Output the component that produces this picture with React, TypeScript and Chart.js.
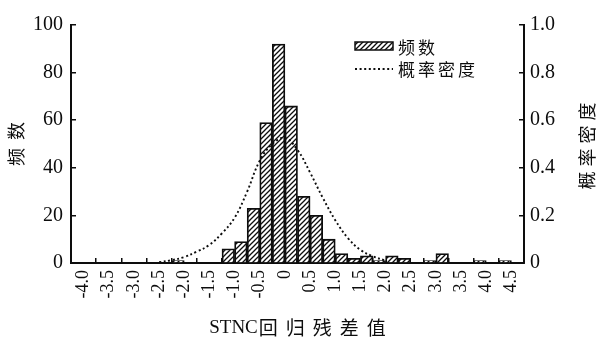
import React, { useEffect, useRef } from "react";
import { Chart, registerables } from "chart.js";

Chart.register(...registerables);

// Residual histogram, bin width 0.25 (bin centres)
const binCenters = [
  -4.125, -3.875, -3.625, -3.375, -3.125, -2.875, -2.625, -2.375,
  -2.125, -1.875, -1.625, -1.375, -1.125, -0.875, -0.625, -0.375,
  -0.125, 0.125, 0.375, 0.625, 0.875, 1.125, 1.375, 1.625,
  1.875, 2.125, 2.375, 2.625, 2.875, 3.125, 3.375, 3.625,
  3.875, 4.125, 4.375, 4.625,
];
const frequency = [
  0, 0, 0, 0, 0, 0, 0, 0,
  1, 0, 0, 0, 6, 9, 23, 59,
  92, 66, 28, 20, 10, 4, 2, 3,
  1, 3, 2, 0, 1, 4, 0, 0,
  1, 0, 1, 0,
];

// Fitted probability density curve
const densityX = [
  -2.5, -2.25, -2.0, -1.75, -1.5, -1.25, -1.0, -0.75, -0.5, -0.25,
  0, 0.25, 0.5, 0.75, 1.0, 1.25, 1.5, 1.75, 2.0,
];
const densityY = [
  0.003, 0.012, 0.025, 0.048, 0.076, 0.125, 0.19, 0.3, 0.43, 0.5,
  0.525, 0.475, 0.38, 0.275, 0.18, 0.105, 0.055, 0.028, 0.01,
];

const xTickValues = [
  -4.0, -3.5, -3.0, -2.5, -2.0, -1.5, -1.0, -0.5, 0,
  0.5, 1.0, 1.5, 2.0, 2.5, 3.0, 3.5, 4.0, 4.5,
];
const xMin = -4.25;
const xMax = 4.75;
const countMax = 100;
const countStep = 20;
const densityMax = 1.0;
const densityStep = 0.2;

const seriesCount = "频数";
const seriesDensity = "概率密度";
const xTitleLatin = "STNC";
const xTitleCjk = "回归残差值";

const INK = "#0d0d0d";
const SERIF = "'Liberation Serif', 'Times New Roman', serif";
const CJK = "'Noto Sans CJK SC', 'Noto Sans CJK JP', sans-serif";

const fmt = (v: number) => (Math.abs(v) < 1e-9 ? "0" : Number(v).toFixed(1));

function makeHatch(): CanvasPattern | string {
  const s = 5;
  const c = document.createElement("canvas");
  c.width = s;
  c.height = s;
  const g = c.getContext("2d");
  if (!g) return "#fff";
  g.fillStyle = "#fff";
  g.fillRect(0, 0, s, s);
  g.strokeStyle = INK;
  g.lineWidth = 1.3;
  g.beginPath();
  g.moveTo(-1, s + 1);
  g.lineTo(s + 1, -1);
  g.moveTo(-1, 1);
  g.lineTo(1, -1);
  g.moveTo(s - 1, s + 1);
  g.lineTo(s + 1, s - 1);
  g.stroke();
  return g.createPattern(c, "repeat") || "#fff";
}

type Run = { text: string; font: string; spacing: number; gapAfter?: number };

// Draws runs of characters with extra tracking, centred on (cx, cy)
function drawRuns(ctx: CanvasRenderingContext2D, runs: Run[], cx: number, cy: number, angle = 0) {
  let total = 0;
  const widths: number[][] = [];
  runs.forEach((r, ri) => {
    ctx.font = r.font;
    const chars = Array.from(r.text);
    const ws = chars.map((ch) => ctx.measureText(ch).width);
    widths.push(ws);
    ws.forEach((w, i) => {
      total += w;
      if (i < ws.length - 1) total += r.spacing;
    });
    if (ri < runs.length - 1) total += r.gapAfter || 0;
  });
  ctx.save();
  ctx.translate(cx, cy);
  if (angle) ctx.rotate(angle);
  ctx.fillStyle = INK;
  ctx.textAlign = "left";
  ctx.textBaseline = "middle";
  let x = -total / 2;
  runs.forEach((r, ri) => {
    ctx.font = r.font;
    const chars = Array.from(r.text);
    chars.forEach((ch, i) => {
      ctx.fillText(ch, x, 0);
      x += widths[ri][i];
      if (i < chars.length - 1) x += r.spacing;
    });
    if (ri < runs.length - 1) x += r.gapAfter || 0;
  });
  ctx.restore();
}

function makeDecorations(hatch: CanvasPattern | string) {
  return {
    id: "decorations",
    afterDraw(chart: any) {
      const ctx: CanvasRenderingContext2D = chart.ctx;
      const { left, right, top, bottom } = chart.chartArea;
      const midY = (top + bottom) / 2;
      const midX = (left + right) / 2;

      // axis titles
      drawRuns(ctx, [{ text: seriesCount, font: `18px ${CJK}`, spacing: 8 }], 16, midY, -Math.PI / 2);
      drawRuns(ctx, [{ text: seriesDensity, font: `18px ${CJK}`, spacing: 5 }], right + 63, midY + 2, -Math.PI / 2);
      drawRuns(
        ctx,
        [
          { text: xTitleLatin, font: `19px ${SERIF}`, spacing: 0, gapAfter: 1 },
          { text: xTitleCjk, font: `19px ${CJK}`, spacing: 8 },
        ],
        midX,
        328
      );

      // legend
      const lx = right - 169;
      const boxW = 38;
      ctx.save();
      ctx.fillStyle = hatch as any;
      ctx.fillRect(lx, top + 17, boxW, 8);
      ctx.strokeStyle = INK;
      ctx.lineWidth = 1.5;
      ctx.strokeRect(lx, top + 17, boxW, 8);
      ctx.beginPath();
      ctx.setLineDash([2, 2.6]);
      ctx.lineWidth = 1.8;
      ctx.moveTo(lx, top + 44);
      ctx.lineTo(lx + boxW, top + 44);
      ctx.stroke();
      ctx.restore();

      ctx.save();
      ctx.fillStyle = INK;
      ctx.textBaseline = "middle";
      ctx.textAlign = "left";
      ctx.font = `17px ${CJK}`;
      let x = lx + 43;
      for (const ch of Array.from(seriesCount)) {
        ctx.fillText(ch, x, top + 23);
        x += ctx.measureText(ch).width + 3;
      }
      x = lx + 43;
      for (const ch of Array.from(seriesDensity)) {
        ctx.fillText(ch, x, top + 45);
        x += ctx.measureText(ch).width + 3;
      }
      ctx.restore();
    },
  };
}

export default function App() {
  const canvasRef = useRef<HTMLCanvasElement | null>(null);

  useEffect(() => {
    const canvas = canvasRef.current;
    if (!canvas) return;
    const hatch = makeHatch();

    const chart = new Chart(canvas, {
      type: "bar",
      data: {
        datasets: [
          {
            type: "line",
            label: seriesDensity,
            data: densityX.map((x, i) => ({ x, y: densityY[i] })),
            yAxisID: "y1",
            borderColor: INK,
            borderWidth: 1.9,
            borderDash: [2, 2.6],
            pointRadius: 0,
            tension: 0.4,
            fill: false,
            order: 0,
          } as any,
          {
            type: "bar",
            label: seriesCount,
            data: binCenters.map((x, i) => ({ x, y: frequency[i] })),
            yAxisID: "y",
            backgroundColor: hatch as any,
            borderColor: INK,
            borderWidth: 1.8,
            barPercentage: 1,
            categoryPercentage: 1,
            order: 1,
          } as any,
        ],
      },
      options: {
        animation: false,
        responsive: false,
        devicePixelRatio: 1,
        layout: { padding: { top: 20, left: 0, right: 0, bottom: 0 } },
        plugins: { legend: { display: false }, tooltip: { enabled: false } },
        scales: {
          x: {
            type: "linear",
            min: xMin,
            max: xMax,
            offset: false,
            bounds: "data",
            afterBuildTicks: (s: any) => {
              s.ticks = xTickValues.map((v) => ({ value: v }));
            },
            afterFit: (s: any) => {
              s.height = 75;
            },
            ticks: {
              autoSkip: false,
              minRotation: 90,
              maxRotation: 90,
              padding: 12,
              color: INK,
              font: { family: SERIF, size: 18 },
              callback: (v: any) => fmt(Number(v)),
            },
            grid: { offset: true, drawOnChartArea: false, tickLength: -5, color: INK, lineWidth: 1.5 },
            border: { display: true, color: INK, width: 2 },
          },
          y: {
            type: "linear",
            position: "left",
            min: 0,
            max: countMax,
            afterFit: (s: any) => {
              s.width = 71;
            },
            ticks: {
              stepSize: countStep,
              padding: 13,
              color: INK,
              font: { family: SERIF, size: 20 },
              callback: (v: any) => String(v),
            },
            grid: { drawOnChartArea: false, tickLength: -5, color: INK, lineWidth: 1.5 },
            border: { display: true, color: INK, width: 2 },
          },
          y1: {
            type: "linear",
            position: "right",
            min: 0,
            max: densityMax,
            afterFit: (s: any) => {
              s.width = 75;
            },
            ticks: {
              stepSize: densityStep,
              padding: 11,
              color: INK,
              font: { family: SERIF, size: 20 },
              callback: (v: any) => fmt(Number(v)),
            },
            grid: { drawOnChartArea: false, tickLength: -5, color: INK, lineWidth: 1.5 },
            border: { display: true, color: INK, width: 2 },
          },
        },
      } as any,
      plugins: [makeDecorations(hatch)],
    });

    return () => chart.destroy();
  }, []);

  return (
    <div style={{ position: "fixed", left: 0, top: 0, width: 599, height: 338, background: "#fff" }}>
      <canvas ref={canvasRef} width={599} height={338} style={{ display: "block" }} />
    </div>
  );
}
